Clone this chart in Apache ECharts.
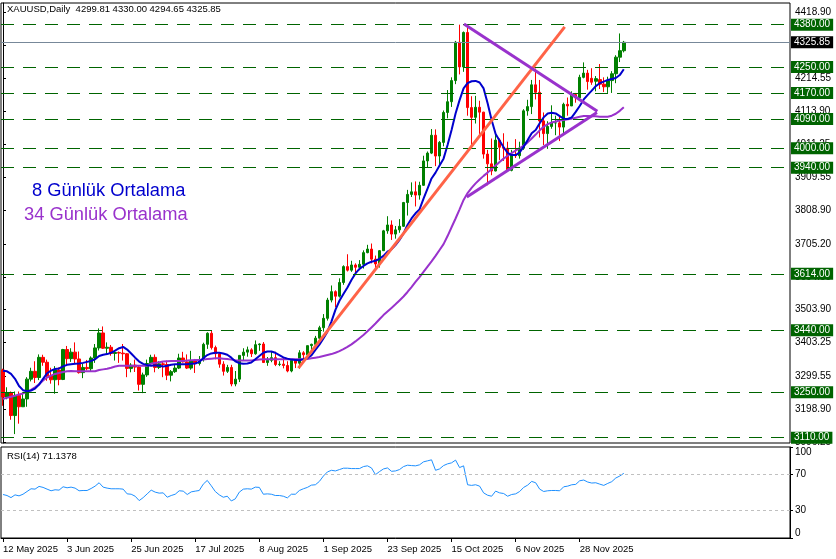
<!DOCTYPE html>
<html><head><meta charset="utf-8">
<script src="https://cdn.jsdelivr.net/npm/echarts@6/dist/echarts.min.js"></script>
<style>html,body{margin:0;padding:0;background:#fff}#c{width:836px;height:559px}</style>
</head><body><div id="c"></div>
<script>
// ---------- DATA ----------
const firstDate = [2025, 4, 12];   // 12 May 2025, daily bars (weekdays)
const slotCount = 197;             // bars that fit in the chart window
const opens = [3318,3235,3249,3178,3240,3205,3229,3290,3314,3295,3357,3342,3300,3288,3318,3289,3381,3353,3373,3352,3310,3326,3322,3355,3386,3432,3385,3388,3369,3372,3370,3368,3323,3333,3327,3274,3303,3338,3357,3326,3337,3335,3302,3313,3324,3355,3343,3324,3347,3338,3350,3397,3431,3387,3368,3336,3314,3326,3275,3290,3363,3373,3380,3368,3396,3398,3341,3348,3356,3335,3336,3332,3315,3348,3339,3371,3365,3393,3397,3416,3448,3477,3533,3559,3545,3587,3636,3625,3641,3634,3643,3679,3690,3659,3644,3685,3746,3764,3736,3749,3760,3833,3858,3866,3856,3886,3961,3985,4040,3976,4018,4110,4143,4208,4326,4250,4356,4125,4095,4126,4111,3982,3952,3930,4025,4003,4000,3932,3980,3977,4000,4115,4128,4195,4172,4084,4045,4067,4078,4078,4065,4135,4130,4165,4155,4218,4231,4215,4206,4211,4197,4189,4208,4229,4280,4299.81];
const highs = [3322,3265,3252,3252,3252,3250,3296,3325,3345,3366,3365,3350,3325,3330,3326,3383,3392,3385,3403,3375,3338,3349,3360,3398,3446,3452,3403,3395,3375,3375,3398,3370,3339,3350,3330,3310,3350,3365,3366,3345,3344,3347,3318,3336,3368,3374,3366,3377,3352,3361,3402,3434,3439,3393,3373,3345,3334,3334,3315,3363,3385,3390,3385,3409,3400,3404,3358,3375,3374,3345,3358,3345,3350,3351,3379,3376,3393,3399,3423,3454,3490,3540,3578,3563,3600,3640,3674,3654,3646,3656,3686,3703,3707,3670,3687,3749,3791,3778,3761,3782,3835,3872,3895,3898,3897,3977,3990,4059,4058,4022,4116,4179,4218,4330,4380,4359,4381,4160,4161,4146,4112,3995,4030,4046,4030,4046,4020,3995,4028,4020,4120,4149,4210,4245,4210,4110,4083,4132,4100,4100,4140,4156,4175,4170,4226,4264,4241,4246,4222,4259,4218,4220,4237,4286,4353,4330];
const lows = [3208,3228,3165,3121,3153,3205,3205,3283,3278,3287,3331,3285,3276,3245,3271,3287,3333,3343,3339,3307,3293,3317,3315,3340,3378,3383,3366,3362,3347,3340,3347,3296,3311,3312,3255,3247,3297,3331,3311,3321,3296,3287,3283,3309,3321,3341,3321,3319,3309,3332,3344,3383,3381,3351,3325,3301,3309,3268,3268,3281,3347,3359,3358,3365,3377,3340,3331,3342,3330,3330,3323,3311,3311,3324,3322,3354,3351,3372,3385,3401,3436,3470,3526,3511,3541,3580,3621,3620,3612,3625,3630,3677,3646,3628,3633,3684,3737,3718,3722,3740,3758,3793,3850,3821,3842,3884,3940,3982,3945,3947,4006,4092,4127,4197,4227,4235,4100,4004,4076,4044,3968,3886,3917,3929,3964,3961,3929,3929,3970,3968,3995,4100,4105,4150,4033,4010,3998,4060,4040,4022,4040,4100,4130,4140,4150,4215,4180,4195,4175,4182,4173,4170,4170,4200,4265,4294.65];
const closes = [3235,3249,3178,3240,3205,3229,3290,3314,3295,3357,3342,3300,3288,3318,3289,3381,3353,3373,3352,3310,3326,3322,3355,3386,3432,3385,3388,3369,3372,3370,3368,3323,3333,3327,3274,3303,3338,3357,3326,3337,3335,3302,3313,3324,3355,3343,3324,3347,3338,3350,3397,3431,3387,3368,3336,3314,3326,3275,3290,3363,3373,3380,3368,3396,3398,3341,3348,3356,3335,3336,3332,3315,3348,3339,3371,3365,3393,3397,3416,3448,3477,3533,3559,3545,3587,3636,3625,3641,3634,3643,3679,3690,3659,3644,3685,3746,3764,3736,3749,3760,3833,3858,3866,3856,3886,3961,3985,4040,3976,4018,4110,4143,4208,4326,4250,4356,4125,4095,4126,4111,3982,3952,3930,4025,4003,4000,3932,3980,3977,4000,4115,4128,4195,4172,4084,4045,4067,4078,4078,4065,4135,4130,4165,4155,4218,4231,4205,4203,4214,4197,4189,4208,4229,4280,4300,4325.85];
const ma8 = [3316,3314,3306,3291,3269,3256,3253,3255,3261,3273,3291,3308,3316,3321,3323,3329,3334,3336,3337,3338,3340,3343,3346,3351,3361,3365,3367,3371,3378,3385,3389,3381,3369,3356,3344,3337,3333,3331,3333,3331,3329,3331,3334,3336,3336,3336,3336,3337,3338,3343,3354,3364,3369,3371,3371,3369,3365,3356,3345,3339,3337,3338,3341,3351,3361,3371,3375,3375,3371,3364,3357,3353,3350,3349,3348,3351,3355,3363,3380,3396,3415,3436,3467,3503,3531,3552,3572,3595,3615,3629,3638,3646,3651,3654,3660,3669,3682,3689,3702,3718,3738,3764,3784,3800,3812,3845,3876,3907,3925,3947,3968,4010,4056,4107,4148,4184,4200,4206,4207,4202,4184,4138,4087,4044,4023,4003,3986,3979,3979,3987,4005,4025,4046,4056,4077,4095,4107,4109,4107,4099,4091,4090,4095,4112,4130,4150,4164,4177,4191,4200,4205,4210,4213,4216,4225,4243];
const ma34 = [3229,3233,3236,3239,3243,3246,3251,3257,3265,3274,3286,3295,3301,3306,3309,3312,3314,3315,3314,3314,3314,3314,3314,3314,3318,3320,3322,3325,3329,3331,3331,3331,3331,3331,3331,3331,3331,3338,3340,3342,3344,3345,3346,3346,3346,3346,3347,3348,3349,3349,3350,3352,3353,3354,3354,3353,3352,3350,3348,3347,3347,3347,3347,3349,3350,3351,3351,3351,3351,3351,3351,3351,3351,3351,3351,3351,3352,3354,3356,3358,3361,3364,3367,3371,3376,3382,3389,3397,3406,3416,3426,3437,3449,3461,3474,3487,3498,3509,3520,3532,3544,3558,3573,3589,3604,3620,3636,3652,3669,3687,3705,3730,3757,3784,3812,3841,3862,3878,3892,3904,3915,3925,3936,3947,3958,3968,3977,3985,3993,4000,4008,4018,4030,4042,4055,4066,4074,4079,4082,4085,4087,4089,4091,4094,4097,4099,4099,4098,4098,4097,4097,4097,4100,4106,4115,4126];
const rsi = [47.8,46.7,44.4,47.4,46.3,48.1,51.1,54.1,53.7,56.7,55.6,53.7,51.9,53,52.6,56.3,55.2,55.9,54.8,51.9,52.2,52.2,54.4,57,60.7,55.9,54.8,54.1,54.1,54.1,53.7,48.5,48.1,45.9,41.1,44.4,48.5,52.6,50.4,49.3,49.6,44.8,46.7,48.1,51.9,51.5,47.8,50.7,51.5,52.2,59.2,63.3,57.4,51.1,47.4,44.8,45.9,40.7,43,50.4,53.7,54.1,53.7,55.9,55.6,48.1,48.5,48.1,46.7,46.7,45.9,44.1,48.1,48.1,52.2,54.1,55.6,58.1,58.5,62.2,68.1,72.6,74.4,73.7,75.2,76.7,76.7,76.3,76.3,76.3,78.5,79.3,77,69.6,73,75.9,77,73.3,73.7,75.2,78.5,80,79.6,79.3,80.4,83.7,84.8,85.9,74.4,75.9,79.6,81.5,82.6,85.6,77.4,79.3,58.5,57.8,58.5,57,49.6,47,45.9,51.5,49.6,48.9,45.9,47.8,48.5,51.1,55.6,58.1,62.2,60.7,53.7,51.1,51.9,52.2,52.2,51.9,56.3,57,58.5,58.9,62.9,63.7,61.5,60.4,60.7,59.2,57.8,60,61.9,65.9,68.1,71.1];
const levels = [4380, 4250, 4170, 4090, 4000, 3940, 3614, 3440, 3250, 3110];
const lastPrice = 4325.85;
const priceTicks = [3096.25, 3198.90, 3299.55, 3403.25, 3503.90, 3604.55, 3705.20, 3808.90, 3909.55, 4011.25, 4113.90, 4214.55, 4316.70, 4418.90];
const rsiTicks = [0, 30, 70, 100];
const rsiLevels = [70, 30];
const orangeTrend = [[73.75, 3324], [140.25, 4373]];
const upperTrend = [[115.1, 4382], [148.4, 4114]];
const lowerTrend = [[115.8, 3850], [148.3, 4110]];
const headerText = 'XAUUSD,Daily  4299.81 4330.00 4294.65 4325.85';
const rsiText = 'RSI(14) 71.1378';
const legend8 = '8 Günlük Ortalama';
const legend34 = '34 Günlük Ortalama';

// ---------- BUILD ----------
const months = ['Jan','Feb','Mar','Apr','May','Jun','Jul','Aug','Sep','Oct','Nov','Dec'];
const categories = [];
let d = new Date(Date.UTC(firstDate[0], firstDate[1], firstDate[2]));
while (categories.length < slotCount) {
  const wd = d.getUTCDay();
  if (wd !== 0 && wd !== 6) categories.push(d.getUTCDate() + ' ' + months[d.getUTCMonth()] + ' ' + d.getUTCFullYear());
  d = new Date(d.getTime() + 86400000);
}
const candles = opens.map((o, i) => [o, closes[i], lows[i], highs[i]]);
const labelInterval = (idx) => idx % 16 === 0 && idx < opens.length;
const FONT = '"Liberation Sans", Arial, sans-serif';

const chart = echarts.init(document.getElementById('c'));
chart.setOption({
  animation: false,
  backgroundColor: '#ffffff',
  grid: [
    {left: 1, right: 46, top: 3, height: 440, show: true, borderColor: '#000', borderWidth: 1, backgroundColor: 'transparent'},
    {left: 1, right: 46, top: 447, height: 91, show: true, borderColor: '#000', borderWidth: 1, backgroundColor: 'transparent'}
  ],
  xAxis: [
    {type: 'category', gridIndex: 0, data: categories, boundaryGap: true, show: false},
    {type: 'category', gridIndex: 1, data: categories, boundaryGap: true,
     axisLine: {show: true, lineStyle: {color: '#000'}},
     axisTick: {show: true, alignWithLabel: true, interval: labelInterval, length: 4, lineStyle: {color: '#000'}},
     axisLabel: {interval: labelInterval, align: 'left', fontSize: 9.5, color: '#000', margin: 6, fontFamily: FONT},
     splitLine: {show: false}},
    {type: 'value', gridIndex: 0, min: -0.5, max: slotCount - 0.5, show: false}
  ],
  yAxis: [
    {type: 'value', gridIndex: 0, position: 'right', min: 3093.6, max: 4446.6,
     axisLine: {show: true, lineStyle: {color: '#000'}},
     axisTick: {show: true, length: 3, customValues: priceTicks, lineStyle: {color: '#000'}},
     axisLabel: {customValues: priceTicks, formatter: v => v.toFixed(2), fontSize: 10, color: '#000', margin: 5, fontFamily: FONT},
     splitLine: {show: false}},
    {type: 'value', gridIndex: 1, position: 'right', min: 0, max: 100,
     axisLine: {show: true, lineStyle: {color: '#000'}},
     axisTick: {show: true, length: 3, customValues: rsiTicks, lineStyle: {color: '#000'}},
     axisLabel: {customValues: rsiTicks, fontSize: 10, color: '#000', margin: 5, fontFamily: FONT,
                 verticalAlignMaxLabel: 'top', verticalAlignMinLabel: 'bottom'},
     splitLine: {show: false}}
  ],
  graphic: [
    {type: 'text', left: 7, top: 4, style: {text: headerText, fill: '#000', font: '9.5px ' + FONT}},
    {type: 'text', left: 7, top: 451, style: {text: rsiText, fill: '#000', font: '9.5px ' + FONT}},
    {type: 'text', left: 32, top: 182, style: {text: legend8, fill: '#0000CD', font: '18.3px ' + FONT}},
    {type: 'text', left: 24, top: 206, style: {text: legend34, fill: '#9932CC', font: '18.3px ' + FONT}}
  ],
  series: [
    {type: 'candlestick', xAxisIndex: 0, yAxisIndex: 0, data: candles, barWidth: 3,
     itemStyle: {color: '#008000', color0: '#ff0000', borderColor: '#008000', borderColor0: '#ff0000', borderWidth: 1},
     markLine: {symbol: 'none', silent: true, animation: false,
       lineStyle: {color: '#006400', type: [13, 9], width: 1},
       label: {position: 'end', distance: 1, formatter: p => Number(p.value).toFixed(2), color: '#fff',
               backgroundColor: '#006400', padding: [1, 3, 0, 3], fontSize: 10, lineHeight: 11, fontFamily: FONT},
       data: levels.map(v => ({yAxis: v})).concat([{yAxis: lastPrice, lineStyle: {color: '#778899', type: 'solid', width: 1},
              label: {backgroundColor: '#000'}}])}},
    {type: 'line', xAxisIndex: 0, yAxisIndex: 0, data: ma34, symbol: 'none', lineStyle: {color: '#9932CC', width: 2}, z: 3},
    {type: 'line', xAxisIndex: 0, yAxisIndex: 0, data: ma8, symbol: 'none', lineStyle: {color: '#0000CD', width: 2}, z: 4},
    {type: 'line', xAxisIndex: 2, yAxisIndex: 0, data: orangeTrend, symbol: 'none', lineStyle: {color: '#FF6347', width: 3}, z: 5},
    {type: 'line', xAxisIndex: 2, yAxisIndex: 0, data: upperTrend, symbol: 'none', lineStyle: {color: '#9932CC', width: 3}, z: 5},
    {type: 'line', xAxisIndex: 2, yAxisIndex: 0, data: lowerTrend, symbol: 'none', lineStyle: {color: '#9932CC', width: 3}, z: 5},
    {type: 'line', xAxisIndex: 1, yAxisIndex: 1, data: rsi, symbol: 'none', lineStyle: {color: '#1E90FF', width: 1},
     markLine: {symbol: 'none', silent: true, label: {show: false},
       lineStyle: {color: '#c0c0c0', type: [3, 3], width: 1}, data: rsiLevels.map(v => ({yAxis: v}))}}
  ]
});
</script>
</body></html>
